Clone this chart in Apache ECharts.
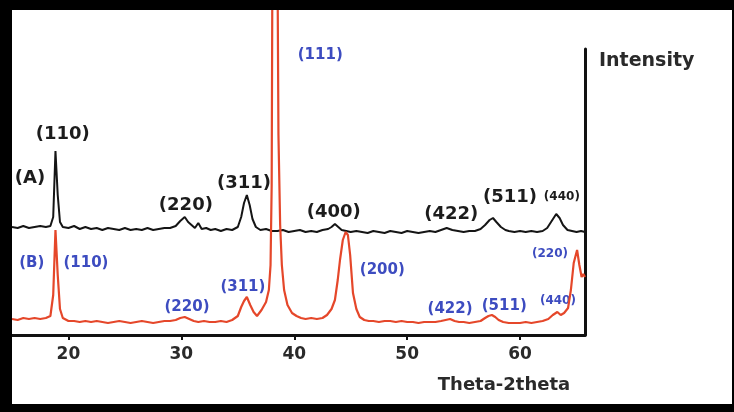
<!DOCTYPE html>
<html>
<head>
<meta charset="UTF-8">
<title>XRD</title>
<script src="https://cdn.jsdelivr.net/npm/echarts@6/dist/echarts.min.js"></script>
<style>
  html, body { margin: 0; padding: 0; background: #fff; overflow: hidden; }
  #container { width: 734px; height: 412px; }
</style>
</head>
<body>
<div id="container"></div>
<script type="text/javascript">
// x ticks shown on the 2theta axis
var xTicks = [20, 30, 40, 50, 60];

// curve (A), black : [2theta, intensity]
var curveA = [[15.0,108],[15.5,107],[16.0,109],[16.5,107],[17.0,108],[17.5,109],[18.0,108],[18.4,109],[18.65,118],[18.85,184],[19.05,140],[19.25,113],[19.5,108],[20.0,107],[20.5,109],[21.0,106],[21.5,108],[22.0,106],[22.5,107],[23.0,105],[23.5,107],[24.0,106],[24.5,105],[25.0,107],[25.5,105],[26.0,106],[26.5,105],[27.0,107],[27.5,105],[28.0,106],[28.5,107],[29.0,107],[29.5,109],[29.9,114],[30.3,118],[30.6,113],[30.9,110],[31.2,107],[31.5,112],[31.8,106],[32.2,107],[32.6,105],[33.0,106],[33.5,104],[34.0,106],[34.5,105],[35.0,108],[35.3,118],[35.55,132],[35.8,140],[36.05,130],[36.3,116],[36.6,108],[37.0,105],[37.5,106],[38.0,104],[38.5,104],[39.0,105],[39.5,103],[40.0,104],[40.5,105],[41.0,103],[41.5,104],[42.0,103],[42.5,105],[43.0,106],[43.3,108],[43.6,111],[43.9,108],[44.2,105],[44.6,104],[45.0,103],[45.5,104],[46.0,103],[46.5,102],[47.0,104],[47.5,103],[48.0,102],[48.5,104],[49.0,103],[49.5,102],[50.0,104],[50.5,103],[51.0,102],[51.5,103],[52.0,104],[52.5,103],[53.0,105],[53.5,107],[54.0,105],[54.5,104],[55.0,103],[55.5,104],[56.0,104],[56.5,106],[56.9,110],[57.3,115],[57.6,117],[57.9,113],[58.3,108],[58.7,105],[59.0,104],[59.5,103],[60.0,104],[60.5,103],[61.0,104],[61.5,103],[62.0,104],[62.4,107],[62.8,114],[63.2,121],[63.5,117],[63.8,110],[64.2,105],[64.6,104],[65.0,103],[65.4,104],[65.75,103]];

// curve (B), red
var curveB = [[15.0,16],[15.5,15],[16.0,17],[16.5,16],[17.0,17],[17.5,16],[18.0,17],[18.4,19],[18.65,40],[18.85,105],[19.05,60],[19.25,26],[19.5,17],[20.0,14],[20.5,14],[21.0,13],[21.5,14],[22.0,13],[22.5,14],[23.0,13],[23.5,12],[24.0,13],[24.5,14],[25.0,13],[25.5,12],[26.0,13],[26.5,14],[27.0,13],[27.5,12],[28.0,13],[28.5,14],[29.0,14],[29.5,15],[29.9,17],[30.3,18],[30.7,16],[31.1,14],[31.5,13],[32.0,14],[32.5,13],[33.0,13],[33.5,14],[34.0,13],[34.5,15],[35.0,19],[35.3,28],[35.55,34],[35.8,38],[36.1,30],[36.4,23],[36.7,19],[37.1,25],[37.5,33],[37.75,45],[37.9,70],[38.0,150],[38.1,500],[38.3,800],[38.45,500],[38.6,200],[38.75,110],[38.9,70],[39.1,45],[39.4,30],[39.8,22],[40.2,19],[40.6,17],[41.0,16],[41.5,17],[42.0,16],[42.5,17],[42.9,20],[43.3,26],[43.6,35],[43.85,55],[44.05,75],[44.3,95],[44.55,103],[44.75,100],[44.95,80],[45.2,42],[45.5,26],[45.8,18],[46.2,15],[46.6,14],[47.0,14],[47.5,13],[48.0,14],[48.5,14],[49.0,13],[49.5,14],[50.0,13],[50.5,13],[51.0,12],[51.5,13],[52.0,13],[52.5,13],[53.0,14],[53.4,15],[53.8,16],[54.2,14],[54.6,13],[55.0,13],[55.5,12],[56.0,13],[56.5,14],[56.9,17],[57.2,19],[57.5,20],[57.8,18],[58.1,15],[58.5,13],[59.0,12],[59.5,12],[60.0,12],[60.5,13],[61.0,12],[61.5,13],[62.0,14],[62.5,16],[62.9,20],[63.3,23],[63.6,20],[63.9,22],[64.25,27],[64.5,45],[64.75,72],[65.05,85],[65.25,70],[65.45,58],[65.6,61],[65.75,58]];

// peak labels (A), black
var labelsA = ['(A)', '(110)', '(220)', '(311)', '(400)', '(422)', '(511)', '(440)'];
var labelsAx = [16.6, 19.5, 30.4, 35.55, 43.5, 53.9, 59.1, 63.7];
var labelsAy = [157, 201, 130, 152, 123, 121, 138, 138];

// peak labels (B), blue
var labelsB = ['(B)', '(110)', '(111)', '(220)', '(311)', '(200)', '(422)', '(511)', '(440)', '(220)'];
var labelsBx = [16.75, 21.55, 42.3, 30.5, 35.45, 47.8, 53.8, 58.6, 63.35, 62.65];
var labelsBy = [72, 72, 280, 28, 48, 65, 26, 29, 34, 81];

function labelData(names, xs, ys, small) {
	var out = [];
	for (var i = 0; i < names.length; i++) {
		var item = { name: names[i], value: [xs[i], ys[i]] };
		if (names[i] == '(440)' || (small && names[i] == '(220)' && xs[i] > 60)) {
			item.label = { fontSize: 12 };
		}
		out.push(item);
	}
	return out;
}

var myChart = echarts.init(document.getElementById('container'));

var option = {
	animation: false,
	grid: { left: 12, right: 149, top: 49, bottom: 77 },
	xAxis: {
		type: 'value',
		min: 15,
		max: 65.75,
		name: 'Theta-2theta',
		nameLocation: 'end',
		nameGap: -81,
		nameTextStyle: {
			fontFamily: 'DejaVu Sans', fontWeight: 'bold', fontSize: 18, color: '#2a2a2a',
			align: 'center', verticalAlign: 'top', padding: [41, 0, 0, 0]
		},
		splitLine: { show: false },
		axisLine: { onZero: false, lineStyle: { color: '#111', width: 3 } },
		axisTick: { show: true, length: 5, customValues: xTicks, lineStyle: { color: '#111', width: 2 } },
		axisLabel: {
			customValues: xTicks, margin: 11,
			fontFamily: 'DejaVu Sans', fontWeight: 'bold', fontSize: 17, color: '#2a2a2a'
		}
	},
	yAxis: {
		type: 'value',
		position: 'right',
		min: 0,
		max: 286,
		name: 'Intensity',
		nameLocation: 'end',
		nameGap: -12,
		nameTextStyle: {
			fontFamily: 'DejaVu Sans', fontWeight: 'bold', fontSize: 19, color: '#2a2a2a',
			align: 'left', verticalAlign: 'middle', padding: [0, 0, 0, 14]
		},
		splitLine: { show: false },
		axisLine: { show: true, onZero: false, lineStyle: { color: '#111', width: 3 } },
		axisTick: { show: false },
		axisLabel: { show: false }
	},
	series: [{
		name: 'A',
		type: 'line',
		showSymbol: false,
		clip: false,
		lineStyle: { color: '#151515', width: 2 },
		data: curveA
	}, {
		name: 'B',
		type: 'line',
		showSymbol: false,
		clip: false,
		lineStyle: { color: '#e5472a', width: 2.2 },
		data: curveB
	}, {
		name: 'labelsA',
		type: 'scatter',
		symbolSize: 0,
		itemStyle: { opacity: 1 },
		label: {
			show: true, position: 'inside', formatter: '{b}',
			fontFamily: 'DejaVu Sans', fontWeight: 'bold', fontSize: 18, color: '#1c1c1c'
		},
		data: labelData(labelsA, labelsAx, labelsAy, false)
	}, {
		name: 'labelsB',
		type: 'scatter',
		symbolSize: 0,
		itemStyle: { opacity: 1 },
		label: {
			show: true, position: 'inside', formatter: '{b}',
			fontFamily: 'DejaVu Sans', fontWeight: 'bold', fontSize: 15, color: '#3d4cc0'
		},
		data: labelData(labelsB, labelsBx, labelsBy, true)
	}],
	// black picture frame
	graphic: [
		{ type: 'rect', z: 100, shape: { x: 0, y: 0, width: 12, height: 412 }, style: { fill: '#000' } },
		{ type: 'rect', z: 100, shape: { x: 0, y: 0, width: 734, height: 10 }, style: { fill: '#000' } },
		{ type: 'rect', z: 100, shape: { x: 0, y: 404, width: 734, height: 8 }, style: { fill: '#000' } },
		{ type: 'rect', z: 100, shape: { x: 732, y: 0, width: 2, height: 412 }, style: { fill: '#000' } }
	]
};

myChart.setOption(option);
</script>
</body>
</html>
